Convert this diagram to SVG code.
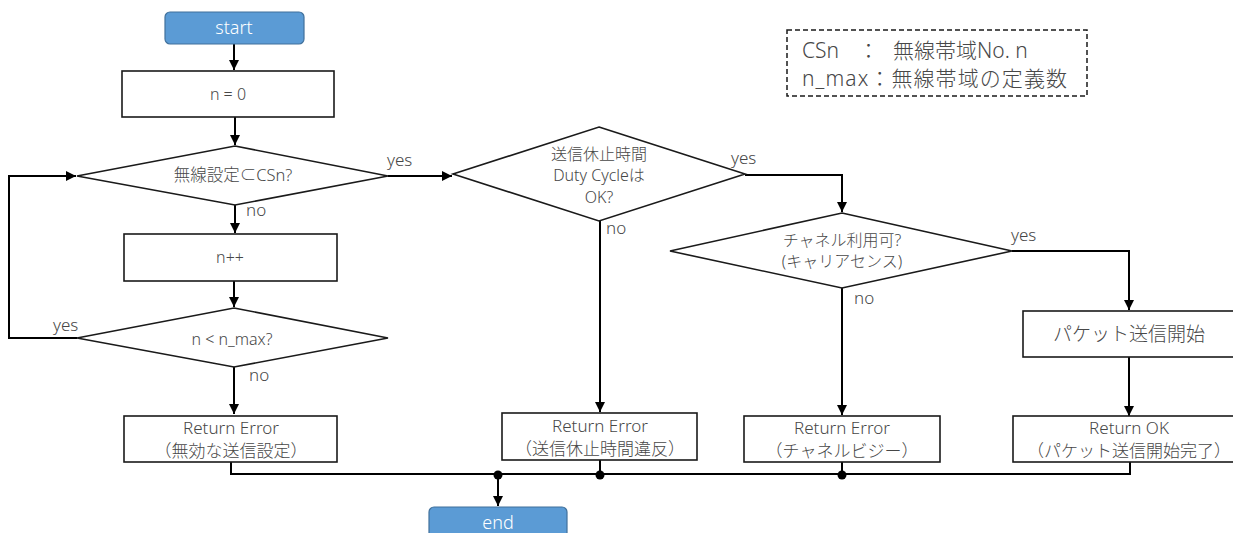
<svg xmlns="http://www.w3.org/2000/svg" width="1233" height="533" viewBox="0 0 1233 533">
<defs>
<marker id="ah" viewBox="0 0 10 10" refX="10" refY="5" markerWidth="5" markerHeight="5" markerUnits="strokeWidth" orient="auto">
<path d="M0,0 L10,5 L0,10 z" fill="#000"/>
</marker>
<style>
.t{font-family:"Noto Sans","Noto Sans CJK JP",sans-serif;font-weight:300;fill:#474747;text-anchor:middle;dominant-baseline:central}
.box{fill:#fff;stroke:#1a1a1a;stroke-width:1.6}
.term{fill:#5B9BD5;stroke:#41719C;stroke-width:1.2}
.tw{font-family:"Noto Sans","Noto Sans CJK JP",sans-serif;font-weight:300;fill:#fff;text-anchor:middle;dominant-baseline:central;font-size:18px}
.c{fill:none;stroke:#000;stroke-width:2}
.lbl{font-family:"Noto Sans","Noto Sans CJK JP",sans-serif;font-weight:300;fill:#474747;font-size:17px}
.two{font-size:17px}
.lg{font-family:"Noto Sans","Noto Sans CJK JP",sans-serif;font-weight:300;fill:#474747;font-size:21px}
</style>
</defs>
<rect width="1233" height="533" fill="#fff"/>

<g id="legend">
<rect x="787" y="30" width="300" height="66" fill="none" stroke="#1a1a1a" stroke-width="1.5" stroke-dasharray="5 3"/>
<text class="lg" y="58"><tspan x="802">CSn</tspan><tspan x="858">：</tspan><tspan x="893">無線帯域No. n</tspan></text>
<text class="lg" x="802" y="86" textLength="265" lengthAdjust="spacing">n_max：無線帯域の定義数</text>
</g>

<g id="connectors">
<path class="c" d="M234,44 V70" marker-end="url(#ah)"/>
<path class="c" d="M235,117 V145" marker-end="url(#ah)"/>
<path class="c" d="M235,205 V233" marker-end="url(#ah)"/>
<path class="c" d="M234,281 V307" marker-end="url(#ah)"/>
<path class="c" d="M234,367 V414" marker-end="url(#ah)"/>
<path class="c" d="M77,338 H9 V176 H76" marker-end="url(#ah)"/>
<path class="c" d="M388,176 H452" marker-end="url(#ah)"/>
<path class="c" d="M600,221 V412" marker-end="url(#ah)"/>
<path class="c" d="M745,175 H842 V212" marker-end="url(#ah)"/>
<path class="c" d="M842,288 V415" marker-end="url(#ah)"/>
<path class="c" d="M1012,251 H1129 V310" marker-end="url(#ah)"/>
<path class="c" d="M1129,357 V416" marker-end="url(#ah)"/>
<path class="c" d="M231,462 V474 H1130 V462"/>
<path class="c" d="M600,460 V474"/>
<path class="c" d="M842,462 V474"/>
<path class="c" d="M498,474 V506" marker-end="url(#ah)"/>
<circle cx="498" cy="475" r="4.5" fill="#000"/>
<circle cx="600" cy="475" r="4.5" fill="#000"/>
<circle cx="842" cy="475" r="4.5" fill="#000"/>
<text class="lbl" x="387" y="166">yes</text>
<text class="lbl" x="731" y="164">yes</text>
<text class="lbl" x="1011" y="241">yes</text>
<text class="lbl" x="53" y="331">yes</text>
<text class="lbl" x="246" y="216">no</text>
<text class="lbl" x="249" y="381">no</text>
<text class="lbl" x="606" y="234">no</text>
<text class="lbl" x="854" y="304">no</text>
</g>

<g id="start">
<rect class="term" x="165" y="12" width="139" height="32" rx="5"/>
<text class="tw" x="234" y="27">start</text>
</g>

<g id="init">
<rect class="box" x="122" y="71" width="212" height="46"/>
<text class="t" x="228" y="94" style="font-size:16px">n = 0</text>
</g>

<g id="check_cs">
<polygon class="box" points="235,146 388,176 235,205 77,176"/>
<text class="t" x="233" y="174" style="font-size:16.5px">無線設定⊂CSn?</text>
</g>

<g id="inc">
<rect class="box" x="124" y="234" width="213" height="47"/>
<text class="t" x="230" y="257" style="font-size:16px">n++</text>
</g>

<g id="check_max">
<polygon class="box" points="234,308 388,338 234,367 77,338"/>
<text class="t" x="232" y="339" style="font-size:16px">n &lt; n_max?</text>
</g>

<g id="err_invalid">
<rect class="box" x="124" y="416" width="213" height="46"/>
<text class="t two" x="231" y="427">Return Error</text>
<text class="t two" x="231" y="450">（無効な送信設定）</text>
</g>

<g id="check_duty">
<polygon class="box" points="599,127 745,174 599,221 453,174"/>
<text class="t" x="599" y="154" style="font-size:16px">送信休止時間</text>
<text class="t" x="599" y="175" style="font-size:16px">Duty Cycleは</text>
<text class="t" x="599" y="197" style="font-size:16px">OK?</text>
</g>

<g id="err_duty">
<rect class="box" x="502" y="413" width="195" height="47"/>
<text class="t two" x="600" y="425">Return Error</text>
<text class="t two" x="600" y="448">（送信休止時間違反）</text>
</g>

<g id="check_channel">
<polygon class="box" points="842,213 1012,251 842,288 670,251"/>
<text class="t" x="842" y="240" style="font-size:16px">チャネル利用可?</text>
<text class="t" x="842" y="261" style="font-size:16px">(キャリアセンス)</text>
</g>

<g id="err_busy">
<rect class="box" x="744" y="416" width="196" height="46"/>
<text class="t two" x="842" y="427">Return Error</text>
<text class="t two" x="842" y="450">（チャネルビジー）</text>
</g>

<g id="send">
<rect class="box" x="1023" y="311" width="220" height="46"/>
<text class="t" x="1129" y="334" style="font-size:19px">パケット送信開始</text>
</g>

<g id="ok">
<rect class="box" x="1013" y="416" width="232" height="46"/>
<text class="t two" x="1129" y="427">Return OK</text>
<text class="t two" x="1129" y="450">（パケット送信開始完了）</text>
</g>

<g id="end">
<rect class="term" x="429" y="507" width="138" height="36" rx="5"/>
<text class="tw" x="498" y="522">end</text>
</g>
</svg>
